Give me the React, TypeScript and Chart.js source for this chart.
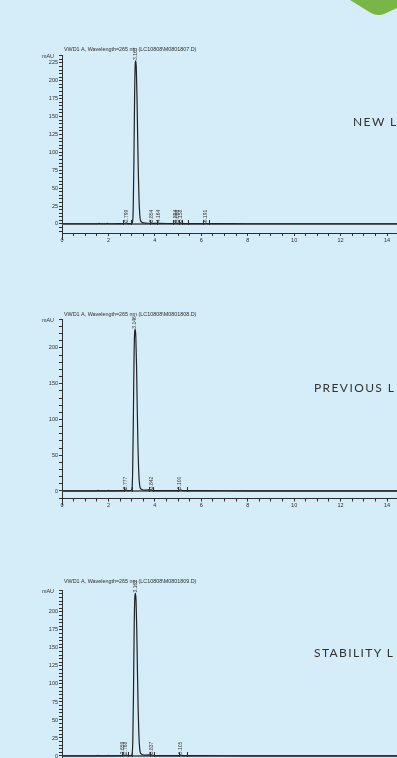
import React, { useEffect, useRef } from "react";
import { Chart, registerables } from "chart.js";
Chart.register(...registerables);

// ---------- data ----------
const X_MAX = 14.43;
const X_LABELS = [0, 2, 4, 6, 8, 10, 12, 14];
const X_MINOR_STEP = 0.5;

const TITLES = [
  "VWD1 A, Wavelength=265 nm (LC10808\\M0801807.D)",
  "VWD1 A, Wavelength=265 nm (LC10808\\M0801808.D)",
  "VWD1 A, Wavelength=265 nm (LC10808\\M0801809.D)",
];
const SIDE_LABELS = ["NEW L", "PREVIOUS L", "STABILITY L"];

const Y_LABELS_1 = [0, 25, 50, 75, 100, 125, 150, 175, 200, 225];
const Y_LABELS_2 = [0, 50, 100, 150, 200];
const Y_LABELS_3 = [0, 25, 50, 75, 100, 125, 150, 175, 200];

// [time (min), mAU]
const run1: number[][] = [
  [0, 0.3], [0.6, 0.3], [1.2, 0.3], [1.55, 0.3], [1.6, 0.9], [1.65, 0.3],
  [1.9, 0.3], [1.95, 0.9], [2.0, 0.3], [2.4, 0.4], [2.65, 0.5], [2.78, 1.6],
  [2.82, 0.6], [2.95, 0.6], [3.0, 0.8], [3.04, 3], [3.07, 25], [3.1, 95],
  [3.13, 185], [3.16, 226], [3.18, 228], [3.2, 218], [3.23, 178], [3.26, 120],
  [3.29, 68], [3.32, 32], [3.35, 13], [3.38, 5.5], [3.42, 2.8], [3.48, 1.8],
  [3.6, 1.3], [3.8, 1.0], [3.85, 1.5], [3.9, 0.9], [4.1, 0.8], [4.16, 1.4],
  [4.22, 0.8], [4.5, 0.7], [4.85, 0.7], [4.89, 1.8], [4.95, 0.9], [5.1, 1.6],
  [5.16, 0.8], [5.3, 0.6], [5.8, 0.5], [6.15, 0.5], [6.19, 1.4], [6.25, 0.5],
  [6.5, 0.4], [8, 0.3], [10, 0.3], [12, 0.3], [14.43, 0.3],
];
const run2: number[][] = [
  [0, 0.3], [1.5, 0.3], [1.55, 0.8], [1.6, 0.3], [1.95, 0.3], [2.0, 0.8],
  [2.05, 0.3], [2.6, 0.4], [2.76, 1.5], [2.82, 0.6], [2.97, 0.7], [3.01, 3],
  [3.04, 22], [3.07, 90], [3.1, 180], [3.13, 222], [3.155, 226], [3.18, 216],
  [3.21, 176], [3.24, 118], [3.27, 66], [3.3, 31], [3.33, 13], [3.36, 5.5],
  [3.4, 2.8], [3.46, 1.8], [3.6, 1.3], [3.84, 1.6], [3.9, 0.9], [4.2, 0.6],
  [5.0, 0.5], [5.1, 1.5], [5.2, 0.5], [6, 0.4], [8, 0.3], [10, 0.3],
  [12, 0.3], [14.43, 0.3],
];
const run3: number[][] = [
  [0, 0.3], [1.5, 0.3], [1.55, 0.8], [1.6, 0.3], [1.95, 0.3], [2.0, 0.8],
  [2.05, 0.3], [2.55, 0.4], [2.66, 1.6], [2.72, 0.7], [2.77, 1.5], [2.83, 0.6],
  [2.98, 0.7], [3.02, 3], [3.05, 22], [3.08, 90], [3.11, 180], [3.14, 222],
  [3.165, 226], [3.19, 216], [3.22, 176], [3.25, 118], [3.28, 66], [3.31, 31],
  [3.34, 13], [3.37, 5.5], [3.41, 2.8], [3.47, 1.8], [3.6, 1.3], [3.84, 1.6],
  [3.9, 0.9], [4.2, 0.6], [5.05, 0.5], [5.11, 1.5], [5.2, 0.5], [6, 0.4],
  [8, 0.3], [10, 0.3], [12, 0.3], [14.43, 0.3],
];

// peak labels: [time, text, mAU where label starts]
const peaks1: [number, string, number][] = [
  [2.78, "2.799", 2.5], [3.15, "3.167", 229], [3.86, "3.854", 2.5],
  [4.17, "4.164", 2.5], [4.88, "4.884", 2.5], [5.0, "5.096", 2.5],
  [5.1, "5.158", 2.5], [6.2, "6.191", 2.5],
];
const peaks2: [number, string, number][] = [
  [2.76, "2.777", 2.5], [3.14, "3.146", 227], [3.84, "3.842", 2.5], [5.08, "5.100", 2.5],
];
const peaks3: [number, string, number][] = [
  [2.63, "2.659", 2.5], [2.76, "2.768", 2.5], [3.15, "3.162", 227],
  [3.86, "3.837", 2.5], [5.12, "5.105", 2.5],
];

// integration boundary marks (min)
const marks1 = [2.64, 2.96, 3.79, 4.08, 4.78, 5.04, 5.16, 5.43, 6.07, 6.33];
const marks2 = [2.67, 3.0, 3.76, 3.93, 5.0, 5.38];
const marks3 = [2.58, 2.86, 3.0, 3.78, 3.95, 5.05, 5.4];

// ---------- layout / style ----------
const FONT = "'Liberation Sans', Arial, sans-serif";
const INK = "#2e2e2e";

function range(a: number, b: number, s: number) {
  const out: number[] = [];
  for (let v = a; v <= b + 1e-9; v += s) out.push(Math.round(v * 1000) / 1000);
  return out;
}

type Cfg = {
  top: number; h: number; padTop: number; xH: number;
  yMin: number; yMax: number; yStep: number; yLabels: number[];
  run: number[][]; peaks: [number, string, number][]; marks: number[];
  title: string; titleOff: number;
};

const CHARTS: Cfg[] = [
  { top: 0, h: 250, padTop: 55, xH: 17, yMin: -12.6, yMax: 236, yStep: 5, yLabels: Y_LABELS_1,
    run: run1, peaks: peaks1, marks: marks1, title: TITLES[0], titleOff: 6 },
  { top: 260, h: 255, padTop: 59, xH: 16.5, yMin: -10.5, yMax: 240.5, yStep: 10, yLabels: Y_LABELS_2,
    run: run2, peaks: peaks2, marks: marks2, title: TITLES[1], titleOff: 5 },
  { top: 525, h: 260, padTop: 65, xH: 20, yMin: -12.5, yMax: 230.5, yStep: 5, yLabels: Y_LABELS_3,
    run: run3, peaks: peaks3, marks: marks3, title: TITLES[2], titleOff: 9 },
];

function ChromChart({ cfg }: { cfg: Cfg }) {
  const ref = useRef<HTMLCanvasElement>(null);
  useEffect(() => {
    const yTicks = range(-10, cfg.yMax, cfg.yStep).filter((v) => v >= cfg.yMin && v <= cfg.yMax);
    const xTicks = range(0, 14, X_MINOR_STEP);
    const overlay = {
      id: "overlay",
      afterDatasetsDraw(chart: any) {
        const { ctx, chartArea, scales } = chart;
        const xs = scales.x, ys = scales.y;
        const y0 = ys.getPixelForValue(0);
        ctx.save();
        // integration marks
        ctx.strokeStyle = INK;
        ctx.lineWidth = 1;
        for (const t of cfg.marks) {
          const x = Math.round(xs.getPixelForValue(t)) + 0.5;
          ctx.beginPath();
          ctx.moveTo(x, y0 + 1);
          ctx.lineTo(x, y0 - 4);
          ctx.stroke();
        }
        // peak labels
        ctx.fillStyle = "#3a3a3a";
        ctx.font = `5px ${FONT}`;
        ctx.textBaseline = "middle";
        ctx.textAlign = "left";
        for (const [t, txt, at] of cfg.peaks) {
          const x = xs.getPixelForValue(t);
          const y = ys.getPixelForValue(at);
          ctx.save();
          ctx.translate(x, y);
          ctx.rotate(-Math.PI / 2);
          ctx.fillText(txt, 0, 0);
          ctx.restore();
        }
        // title & unit
        ctx.fillStyle = INK;
        ctx.font = `5.4px ${FONT}`;
        ctx.textBaseline = "bottom";
        ctx.fillText(cfg.title, chartArea.left + 2, chartArea.top - cfg.titleOff + 3);
        ctx.textAlign = "left";
        ctx.textBaseline = "middle";
        ctx.fillText("mAU", 42, chartArea.top + 2);
        // y axis line continues a little below the time axis
        ctx.strokeStyle = INK;
        ctx.beginPath();
        ctx.moveTo(chartArea.left + 0.5, chartArea.bottom);
        ctx.lineTo(chartArea.left + 0.5, chartArea.bottom + 7);
        ctx.stroke();
        ctx.restore();
      },
    };
    const chart = new Chart(ref.current!, {
      type: "line",
      data: {
        datasets: [
          {
            data: cfg.run.map(([x, y]) => ({ x, y })),
            borderColor: "#222",
            borderWidth: 1.2,
            pointRadius: 0,
            cubicInterpolationMode: "monotone",
            fill: false,
          },
          {
            data: [{ x: 0, y: 0 }, { x: X_MAX, y: 0 }],
            borderColor: "#6f6f6f",
            borderWidth: 2,
            pointRadius: 0,
            fill: false,
          },
        ],
      },
      options: {
        animation: false,
        responsive: false,
        events: [],
        layout: { padding: { top: cfg.padTop, left: 0, right: 0, bottom: 0 } },
        plugins: { legend: { display: false }, tooltip: { enabled: false }, title: { display: false } },
        scales: {
          x: {
            type: "linear",
            min: 0,
            max: X_MAX,
            afterBuildTicks: (a: any) => { a.ticks = xTicks.map((v) => ({ value: v })); },
            afterFit: (s: any) => { s.height = cfg.xH; },
            grid: { drawOnChartArea: false, drawTicks: true, tickLength: 3, color: INK, tickColor: INK },
            border: { color: INK, width: 1 },
            ticks: {
              autoSkip: false, maxRotation: 0, padding: 1, color: INK,
              font: { size: 5.5, family: FONT },
              callback: (v: any) => (X_LABELS.includes(Number(v)) ? String(v) : ""),
            },
          },
          y: {
            type: "linear",
            min: cfg.yMin,
            max: cfg.yMax,
            afterBuildTicks: (a: any) => { a.ticks = yTicks.map((v) => ({ value: v })); },
            afterFit: (s: any) => { s.width = 62; },
            grid: { drawOnChartArea: false, drawTicks: true, tickLength: 3, color: INK, tickColor: INK },
            border: { color: INK, width: 1 },
            ticks: {
              autoSkip: false, padding: 1, color: INK,
              font: { size: 5.5, family: FONT },
              callback: (v: any) => (cfg.yLabels.includes(Number(v)) ? String(v) : ""),
            },
          },
        },
      },
      plugins: [overlay],
    } as any);
    return () => chart.destroy();
  }, [cfg]);
  return (
    <canvas
      ref={ref}
      width={397}
      height={cfg.h}
      style={{ position: "absolute", left: 0, top: cfg.top, width: 397, height: cfg.h }}
    />
  );
}

const sideStyle: React.CSSProperties = {
  position: "absolute",
  fontFamily: "Lato, 'Open Sans', sans-serif",
  fontSize: 12,
  letterSpacing: 1.4,
  color: "#333",
  lineHeight: "14px",
  whiteSpace: "nowrap",
};

export default function App() {
  return (
    <div
      style={{
        position: "fixed", left: 0, top: 0, width: 397, height: 758,
        overflow: "hidden", background: "#d4edf9",
      }}
    >
      <svg width={397} height={20} style={{ position: "absolute", left: 0, top: 0 }}>
        <path d="M 350 0 L 371 13 Q 377 16.5 384 14 L 397 8 L 397 0 Z" fill="#7ab547" />
      </svg>
      {CHARTS.map((c, i) => (
        <ChromChart key={i} cfg={c} />
      ))}
      <div style={{ ...sideStyle, left: 353, top: 115 }}>{SIDE_LABELS[0]}</div>
      <div style={{ ...sideStyle, left: 314, top: 381 }}>{SIDE_LABELS[1]}</div>
      <div style={{ ...sideStyle, left: 314, top: 646 }}>{SIDE_LABELS[2]}</div>
    </div>
  );
}
